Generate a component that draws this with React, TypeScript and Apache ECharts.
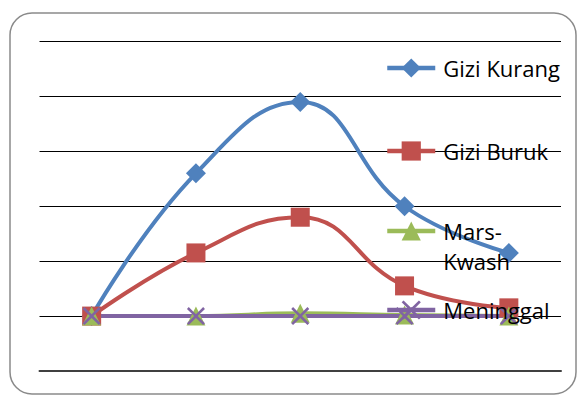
import React, { useEffect, useRef } from "react";
import * as echarts from "echarts";

const categories = ["1", "2", "3", "4", "5"];
const giziKurang = [0, 26, 39, 20, 11.5];
const giziBuruk = [0, 11.5, 18, 5.5, 1.5];
const marsKwash = [0, 0, 0.5, 0.2, 0];
const meninggal = [0, 0, 0, 0, 0];

const FONT = "Open Sans";
const X_SYMBOL = "path://M1,0L5,4L9,0L10,1L6,5L10,9L9,10L5,6L1,10L0,9L4,5L0,1Z";

function legendFor(name: string, top: number, extra: any = {}) {
  return {
    orient: "horizontal",
    left: 385,
    top,
    padding: 0,
    data: [name],
    itemWidth: 48,
    itemHeight: 24,
    itemGap: 0,
    lineStyle: { width: 4.5 },
    textStyle: {
      fontFamily: FONT,
      fontSize: 22,
      lineHeight: 28,
      color: "#000",
      padding: [0, 0, 0, 3],
      ...(extra.textStyle || {}),
    },
    ...(extra.formatter ? { formatter: extra.formatter } : {}),
  };
}

export default function App() {
  const ref = useRef<HTMLDivElement>(null);
  useEffect(() => {
    if (!ref.current) return;
    const chart = echarts.init(ref.current, undefined, { renderer: "svg" });
    chart.setOption({
      animation: false,
      backgroundColor: "#fff",
      graphic: [
        {
          type: "rect",
          z: -10,
          shape: { x: 10, y: 13, width: 566, height: 381, r: 22 },
          style: { fill: "#fff", stroke: "#8a8a8a", lineWidth: 1.5 },
        },
      ],
      grid: { left: 39.5, right: 18, top: 41.5, bottom: 24 },
      xAxis: {
        type: "category",
        data: categories,
        boundaryGap: true,
        axisLine: { show: true, onZero: false, lineStyle: { color: "#404040", width: 2 } },
        axisTick: { show: false },
        axisLabel: { show: false },
        splitLine: { show: false },
      },
      yAxis: {
        type: "value",
        min: -10,
        max: 50,
        interval: 10,
        axisLine: { show: false },
        axisTick: { show: false },
        axisLabel: { show: false },
        splitLine: { show: true, lineStyle: { color: "#000", width: 1 } },
      },
      legend: [
        legendFor("Gizi Kurang", 54),
        legendFor("Gizi Buruk", 137),
        legendFor("Mars-Kwash", 186, {
          formatter: () => "\nMars-\nKwash",
          textStyle: { lineHeight: 30 },
        }),
        legendFor("Meninggal", 296),
      ],
      series: [
        {
          name: "Gizi Kurang",
          type: "line",
          data: giziKurang,
          smooth: 0.45,
          symbol: "diamond",
          symbolSize: 20,
          color: "#4F81BD",
          lineStyle: { width: 4, color: "#4F81BD" },
          itemStyle: { color: "#4F81BD" },
        },
        {
          name: "Gizi Buruk",
          type: "line",
          data: giziBuruk,
          smooth: 0.45,
          symbol: "rect",
          symbolSize: 19,
          color: "#C0504D",
          lineStyle: { width: 4, color: "#C0504D" },
          itemStyle: { color: "#C0504D" },
        },
        {
          name: "Mars-Kwash",
          type: "line",
          data: marsKwash,
          smooth: 0.45,
          symbol: "triangle",
          symbolSize: 19,
          color: "#9BBB59",
          lineStyle: { width: 4, color: "#9BBB59" },
          itemStyle: { color: "#9BBB59" },
        },
        {
          name: "Meninggal",
          type: "line",
          data: meninggal,
          smooth: 0.45,
          symbol: X_SYMBOL,
          symbolSize: 18,
          color: "#8064A2",
          lineStyle: { width: 4, color: "#8064A2" },
          itemStyle: { color: "#8064A2" },
        },
      ],
    });
    return () => chart.dispose();
  }, []);
  return (
    <div
      ref={ref}
      style={{ position: "fixed", left: 0, top: 0, width: 579, height: 395 }}
    />
  );
}
